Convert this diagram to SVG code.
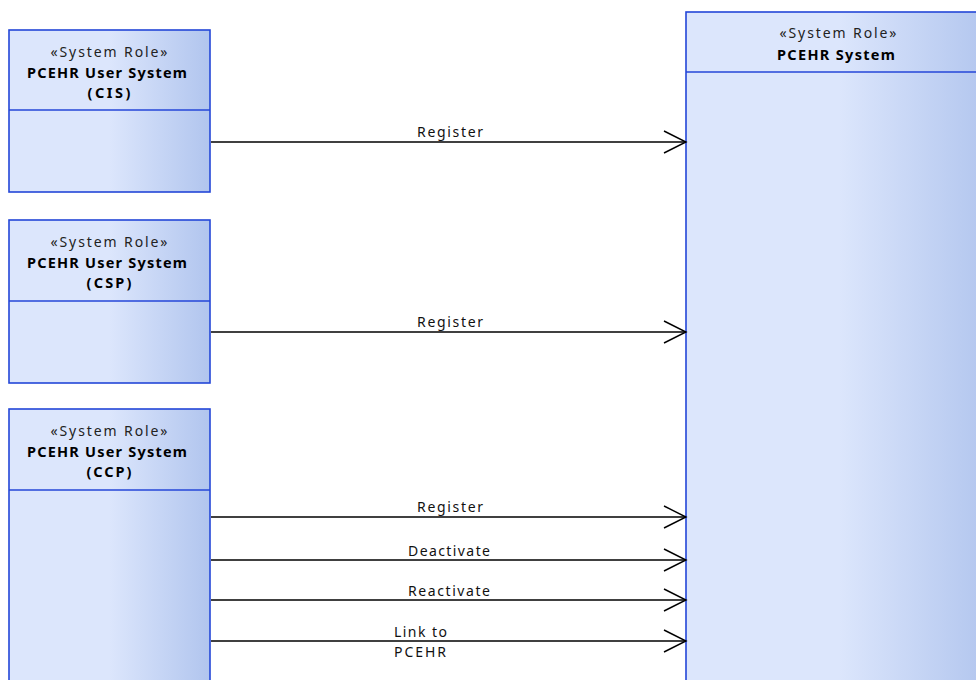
<svg xmlns="http://www.w3.org/2000/svg" width="976" height="680" viewBox="0 0 976 680">
  <defs>
    <linearGradient id="g" x1="0" y1="0" x2="1" y2="0">
      <stop offset="0" stop-color="#dce6fc"/>
      <stop offset="0.5" stop-color="#dce6fc"/>
      <stop offset="1" stop-color="#b1c5ee"/>
    </linearGradient>
    <marker id="arr" markerUnits="userSpaceOnUse" markerWidth="26" markerHeight="26" refX="23" refY="12" orient="auto">
      <path d="M1,1 L23,12 L1,23" fill="none" stroke="#000" stroke-width="1.4"/>
    </marker>
    <style>
      .box{fill:url(#g);stroke:#2446d8;stroke-width:1.6}
      .div{stroke:#2446d8;stroke-width:1.6}
      .st{font-family:"Noto Sans","DejaVu Sans",sans-serif;font-size:14px;fill:#222;text-anchor:middle}
      .nm{font-family:"Noto Sans","DejaVu Sans",sans-serif;font-size:14.5px;font-weight:bold;fill:#000;text-anchor:middle}
      .lb{font-family:"Noto Sans","DejaVu Sans",sans-serif;font-size:14px;fill:#111}
      .cn{stroke:#000;stroke-width:1.5;fill:none;marker-end:url(#arr)}
    </style>
  </defs>
  <rect width="976" height="680" fill="#fff"/>

  <g id="pcehr-system">
    <rect class="box" x="686" y="12" width="306" height="690"/>
    <line class="div" x1="686" y1="72" x2="992" y2="72"/>
    <text class="st" x="838" y="38" textLength="117" lengthAdjust="spacing">«System Role»</text>
    <text class="nm" x="836" y="60" textLength="118" lengthAdjust="spacing">PCEHR System</text>
  </g>

  <g id="user-cis">
    <rect class="box" x="9" y="30" width="201" height="162"/>
    <line class="div" x1="9" y1="110" x2="210" y2="110"/>
    <text class="st" x="109" y="57" textLength="117" lengthAdjust="spacing">«System Role»</text>
    <text class="nm" x="107" y="78" textLength="160" lengthAdjust="spacing">PCEHR User System</text>
    <text class="nm" x="109" y="98" textLength="43" lengthAdjust="spacing">(CIS)</text>
  </g>

  <g id="user-csp">
    <rect class="box" x="9" y="220" width="201" height="163"/>
    <line class="div" x1="9" y1="301" x2="210" y2="301"/>
    <text class="st" x="109" y="247" textLength="117" lengthAdjust="spacing">«System Role»</text>
    <text class="nm" x="107" y="268" textLength="160" lengthAdjust="spacing">PCEHR User System</text>
    <text class="nm" x="109" y="288" textLength="45" lengthAdjust="spacing">(CSP)</text>
  </g>

  <g id="user-ccp">
    <rect class="box" x="9" y="409" width="201" height="300"/>
    <line class="div" x1="9" y1="490" x2="210" y2="490"/>
    <text class="st" x="109" y="436" textLength="117" lengthAdjust="spacing">«System Role»</text>
    <text class="nm" x="107" y="457" textLength="160" lengthAdjust="spacing">PCEHR User System</text>
    <text class="nm" x="109" y="477" textLength="45" lengthAdjust="spacing">(CCP)</text>
  </g>

  <g id="connectors">
    <line class="cn" x1="211" y1="142" x2="686" y2="142"/>
    <text class="lb" x="417" y="137" textLength="66" lengthAdjust="spacing">Register</text>
    <line class="cn" x1="211" y1="332" x2="686" y2="332"/>
    <text class="lb" x="417" y="327" textLength="66" lengthAdjust="spacing">Register</text>
    <line class="cn" x1="211" y1="517" x2="686" y2="517"/>
    <text class="lb" x="417" y="512" textLength="66" lengthAdjust="spacing">Register</text>
    <line class="cn" x1="211" y1="560" x2="686" y2="560"/>
    <text class="lb" x="408" y="556" textLength="82" lengthAdjust="spacing">Deactivate</text>
    <line class="cn" x1="211" y1="600" x2="686" y2="600"/>
    <text class="lb" x="408" y="596" textLength="82" lengthAdjust="spacing">Reactivate</text>
    <line class="cn" x1="211" y1="641" x2="686" y2="641"/>
    <text class="lb" x="394" y="637" textLength="53" lengthAdjust="spacing">Link to</text>
    <text class="lb" x="394" y="657" textLength="52" lengthAdjust="spacing">PCEHR</text>
  </g>
</svg>
